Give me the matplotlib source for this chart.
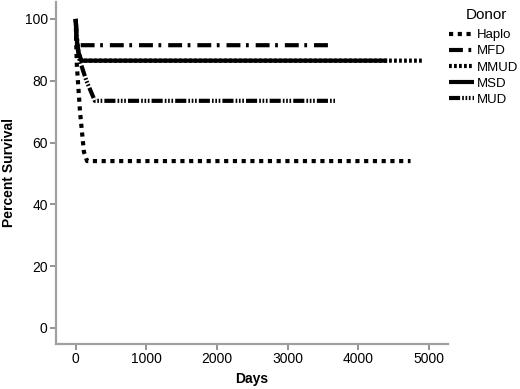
import matplotlib
matplotlib.use("Agg")
import matplotlib.pyplot as plt

plt.rcParams['font.family'] = ['Liberation Sans', 'DejaVu Sans']
plt.rcParams['lines.scale_dashes'] = False

# survival curves (days, percent surviving)
haplo_days = [0, 5, 15, 60, 115, 160, 4740]
haplo_surv = [100, 93, 85, 70, 57, 54, 54]

mfd_days = [0, 10, 30, 3570]
mfd_surv = [100, 95, 91.5, 91.5]

mmud_days = [0, 10, 40, 80, 4920]
mmud_surv = [100, 94, 89, 86.5, 86.5]

msd_days = [0, 10, 40, 80, 4410]
msd_surv = [100, 94, 89, 86.5, 86.5]

mud_days = [0, 10, 50, 150, 270, 3670]
mud_surv = [100, 93, 87, 80, 73.5, 73.5]

xticks = [0, 1000, 2000, 3000, 4000, 5000]
yticks = [0, 20, 40, 60, 80, 100]

fig = plt.figure(figsize=(5.2, 3.89), dpi=100)
ax = fig.add_axes([0.1077, 0.1157, 0.7538, 0.8793])

lw = 3.0
ax.plot(haplo_days, haplo_surv, color='black', lw=lw, dashes=(3, 3.3), label='Haplo')
ax.plot(mfd_days, mfd_surv, color='black', lw=lw, dashes=(10, 4, 2, 5), label='MFD')
ax.plot(mmud_days, mmud_surv, color='black', lw=lw, dashes=(2, 1.6), label='MMUD')
ax.plot(msd_days, msd_surv, color='black', lw=lw, solid_capstyle='butt', label='MSD')
ax.plot(mud_days, mud_surv, color='black', lw=lw,
        dashes=(8, 1.5, 1.2, 1.2, 1.2, 1.2, 1.2, 1.5), label='MUD')

ax.set_xlim(-280, 5270)
ax.set_ylim(-5.2, 105.5)
ax.set_xticks(xticks)
ax.set_yticks(yticks)

for side in ['top', 'right']:
    ax.spines[side].set_visible(False)
for side in ['left', 'bottom']:
    ax.spines[side].set_color('#a0a0a0')
    ax.spines[side].set_linewidth(1.6)
ax.tick_params(direction='out', length=4, width=1.2, color='#808080', labelsize=10,
               labelcolor='black', pad=2)

ax.set_xlabel('Days', fontsize=10, fontweight='bold', labelpad=4)
ax.set_ylabel('Percent Survival', fontsize=10, fontweight='bold', labelpad=6)

fig.text(0.935, 0.962, 'Donor', fontsize=11, ha='center', va='center')
leg = fig.legend(loc='upper left', bbox_to_anchor=(0.864, 0.925),
                 frameon=False, fontsize=9.5, handlelength=1.9,
                 handletextpad=0.2, labelspacing=0.29, borderaxespad=0, borderpad=0)
for line in leg.get_lines():
    line.set_linewidth(3.0)

fig.savefig('out.png', dpi=100)
